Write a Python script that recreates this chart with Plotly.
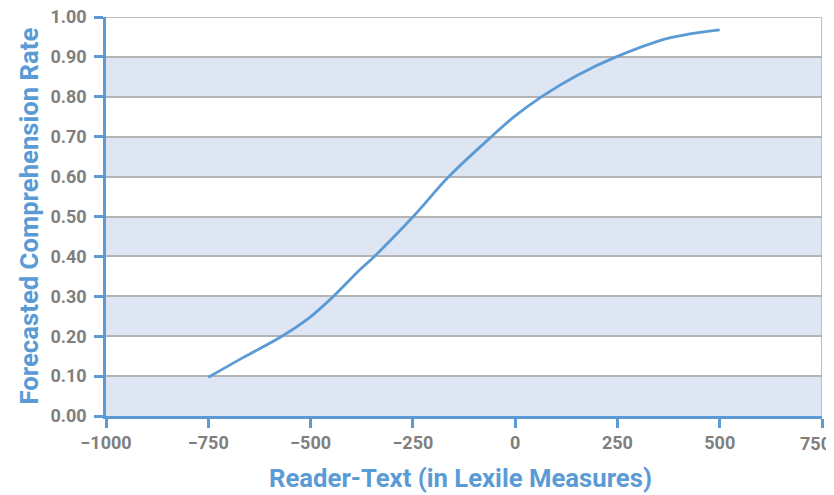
import plotly.graph_objects as go

# Reader-text difference (Lexile) vs forecasted comprehension rate
lexile_diff = [-750, -664, -570, -501, -444, -379, -344, -249, -162, -58, 0, 64, 150, 247, 375, 500]
comprehension = [0.097, 0.147, 0.200, 0.248, 0.300, 0.367, 0.400, 0.500, 0.600, 0.700, 0.752, 0.800, 0.853, 0.900, 0.947, 0.968]

x_ticks = [-1000, -750, -500, -250, 0, 250, 500, 750]
y_ticks = [0.0, 0.1, 0.2, 0.3, 0.4, 0.5, 0.6, 0.7, 0.8, 0.9, 1.0]
band_starts = [0.0, 0.2, 0.4, 0.6, 0.8]

x_title = "Reader-Text (in Lexile Measures)"
y_title = "Forecasted Comprehension Rate"

BLUE = "#5b9bd5"
GRAY_TXT = "#7f7f7f"
FONT = "Roboto, Liberation Sans, sans-serif"


def fmt_x(v):
    return ("\u2212" + str(abs(v))) if v < 0 else str(v)


fig = go.Figure()
fig.add_trace(go.Scatter(
    x=lexile_diff, y=comprehension, mode="lines",
    line=dict(color=BLUE, width=2.8, shape="spline", smoothing=1.0),
    hoverinfo="skip", showlegend=False,
))

shapes = []
for b in band_starts:
    shapes.append(dict(type="rect", xref="x", yref="y", x0=-1000, x1=750, y0=b, y1=b + 0.1,
                       fillcolor="#dfe6f3", line=dict(width=0), layer="below"))
shapes.append(dict(type="line", xref="x", yref="y", x0=750, x1=750, y0=0, y1=1,
                   line=dict(color="#bfbfbf", width=2), layer="below"))
shapes.append(dict(type="line", xref="x", yref="y", x0=-1000, x1=750, y0=1, y1=1,
                   line=dict(color="#bfbfbf", width=2), layer="below"))

annotations = [
    dict(text=f"<b>{x_title}</b>", xref="paper", yref="paper", x=0.495, y=0, yshift=-62,
         xanchor="center", yanchor="middle", showarrow=False,
         font=dict(family=FONT, size=25.7, color=BLUE)),
    dict(text=f"<b>{y_title}</b>", xref="paper", yref="paper", x=0, xshift=-78, y=0.5,
         xanchor="center", yanchor="middle", textangle=-90, showarrow=False,
         font=dict(family=FONT, size=25.7, color=BLUE)),
    # last x tick label, nudged left so it stays inside the window
    dict(text=f"<b>{fmt_x(x_ticks[-1])}</b>", xref="x", yref="paper", x=x_ticks[-1], y=0,
         xshift=11, yshift=-27, xanchor="right", yanchor="middle", showarrow=False,
         font=dict(family=FONT, size=18, color=GRAY_TXT)),
]

# page has an 8px body margin, so the plot area is offset to compensate
fig.update_layout(
    width=834, height=495,
    margin=dict(l=98, r=20, t=9, b=87, autoexpand=False),
    paper_bgcolor="white", plot_bgcolor="white",
    shapes=shapes, annotations=annotations,
    font=dict(family=FONT),
    xaxis=dict(
        range=[-1000, 750], tickvals=x_ticks,
        ticktext=[fmt_x(v) for v in x_ticks[:-1]] + [""],
        showgrid=False, zeroline=False, automargin=False,
        showline=True, linecolor=BLUE, linewidth=2.5,
        ticks="outside", ticklen=9, tickwidth=2.5, tickcolor=BLUE,
        ticklabeloverflow="allow",
        tickfont=dict(family=FONT, size=18, color=GRAY_TXT, weight="bold"),
    ),
    yaxis=dict(
        range=[0, 1], tickvals=y_ticks,
        ticktext=[f"{v:.2f}" for v in y_ticks],
        showgrid=True, gridcolor="#b4b4b4", gridwidth=1.5,
        zeroline=False, automargin=False,
        showline=True, linecolor=BLUE, linewidth=2.5,
        ticks="outside", ticklen=9, tickwidth=2.5, tickcolor=BLUE,
        ticklabelstandoff=4, ticklabeloverflow="allow",
        tickfont=dict(family=FONT, size=18, color=GRAY_TXT, weight="bold"),
    ),
)

fig.write_html("out.html")
